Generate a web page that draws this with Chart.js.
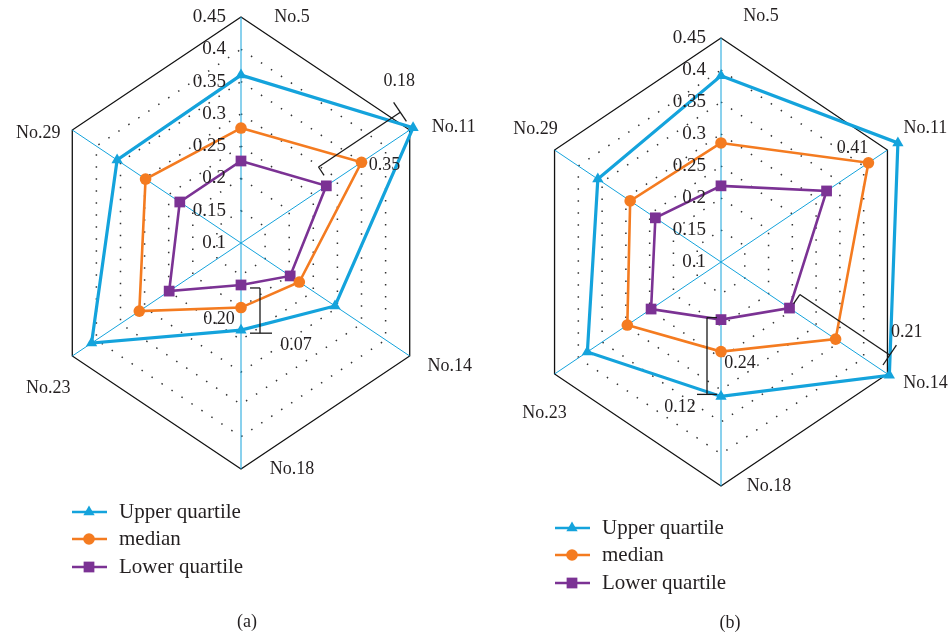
<!DOCTYPE html>
<html>
<head>
<meta charset="utf-8">
<script src="https://cdn.jsdelivr.net/npm/chart.js@4.4.1/dist/chart.umd.min.js"></script>
<style>
  html, body { margin: 0; padding: 0; background: #fff; }
  #wrap { position: relative; width: 952px; height: 639px; overflow: hidden; }
  canvas { position: absolute; top: 0; }
</style>
</head>
<body>
<div id="wrap">
  <canvas id="chartA" width="476" height="639" style="left:0"></canvas>
  <canvas id="chartB" width="476" height="639" style="left:476px"></canvas>
</div>
<script>
// ---- data ----
const categories = ['No.5', 'No.11', 'No.14', 'No.18', 'No.23', 'No.29'];
const tickValues = [0.1, 0.15, 0.2, 0.25, 0.3, 0.35, 0.4, 0.45];
const seriesNames = ['Upper quartile', 'median', 'Lower quartile'];

// panel (a)
const upperA  = [0.36, 0.457, 0.295, 0.235, 0.41, 0.357];
const medianA = [0.278, 0.35, 0.221, 0.20, 0.311, 0.298];
const lowerA  = [0.227, 0.277, 0.202, 0.165, 0.249, 0.227];

// panel (b)
const upperB  = [0.391, 0.472, 0.454, 0.31, 0.381, 0.359];
const medianB = [0.286, 0.41, 0.341, 0.24, 0.297, 0.291];
const lowerB  = [0.219, 0.322, 0.244, 0.19, 0.247, 0.238];

// ---- styling ----
const FONT = '"Liberation Serif", "Times New Roman", serif';
const INK = '#231f20';
const SERIES_STYLE = [
  { color: '#14a3dc', width: 3.2, pointStyle: 'triangle', radius: 6.5 },
  { color: '#f47b20', width: 2.6, pointStyle: 'circle', radius: 5.8 },
  { color: '#7b3294', width: 2.6, pointStyle: 'rect', radius: 7.6 }
];

// Radial scale whose horizontal extent is compressed, giving a taller-than-wide hexagon.
class SquashedRadialScale extends Chart.RadialLinearScale {
  fit() {
    super.fit();
    this.xCenter = Math.floor((this.left + this.right) / 2);
    this.yCenter = Math.floor((this.top + this.bottom) / 2);
    this.drawingArea = Math.min(this.right - this.left, this.bottom - this.top) / 2;
  }
  getPointPosition(index, distanceFromCenter, additionalAngle = 0) {
    const p = super.getPointPosition(index, distanceFromCenter, additionalAngle);
    const k = this.options.squashX || 1;
    return { x: this.xCenter + (p.x - this.xCenter) * k, y: p.y, angle: p.angle };
  }
}
SquashedRadialScale.id = 'squashedRadial';
SquashedRadialScale.defaults = Chart.RadialLinearScale.defaults;
Chart.register(SquashedRadialScale);

// Per-panel text placement and annotations (canvas-local pixels).
const panelLayout = {
  chartA: {
    catOffsets: [[51, 0], [44, -3], [40, 10], [51, 0], [-24, 32], [-34, 3]],
    valueNotes: [
      { series: 1, index: 1, dx: 23, dy: 3 },
      { series: 1, index: 3, dx: -22, dy: 12 }
    ],
    brackets: [
      { index: 1, side: 1, off: 20, a0: 4, a1: -2, tickIn: 10, crossOut: 12, crossIn: 11, lx: -1, ly: -31 },
      { index: 3, side: 1, off: 19, a0: 3, a1: 3, tickIn: 10, crossOut: 12, crossIn: 10, lx: 36, ly: 12 }
    ],
    legend: { x0: 72, x1: 107, xm: 89, xt: 119, ys: [512, 539, 567] },
    caption: { text: '(a)', x: 247, y: 622 }
  },
  chartB: {
    catOffsets: [[40, -22], [38, -22], [38, 9], [48, 0], [-10, 39], [-19, -21]],
    valueNotes: [
      { series: 1, index: 1, dx: -16, dy: -15 },
      { series: 1, index: 3, dx: 19, dy: 12 }
    ],
    brackets: [
      { index: 2, side: 1, off: 17, a0: 1, a1: -11, tickIn: 11, crossOut: 12, crossIn: 12, lx: 17, ly: -23 },
      { index: 3, side: -1, off: 14, a0: -2, a1: -2, tickIn: 10, crossOut: 10, crossIn: 10, lx: -27, ly: 13 }
    ],
    legend: { x0: 79, x1: 114, xm: 96, xt: 126, ys: [528, 555, 583] },
    caption: { text: '(b)', x: 254, y: 623 }
  }
};

function drawText(ctx, str, x, y, size, align) {
  ctx.font = size + 'px ' + FONT;
  ctx.fillStyle = INK;
  ctx.textAlign = align || 'center';
  ctx.textBaseline = 'middle';
  ctx.fillText(str, x, y);
}

function drawMarker(ctx, style, x, y) {
  ctx.fillStyle = style.color;
  ctx.beginPath();
  if (style.pointStyle === 'circle') {
    ctx.arc(x, y, style.radius, 0, Math.PI * 2);
  } else if (style.pointStyle === 'triangle') {
    const r = style.radius;
    ctx.moveTo(x, y - r);
    ctx.lineTo(x + r * Math.sin(Math.PI / 3), y + r * 0.5);
    ctx.lineTo(x - r * Math.sin(Math.PI / 3), y + r * 0.5);
    ctx.closePath();
  } else {
    const s = style.radius * Math.SQRT1_2;
    ctx.rect(x - s, y - s, 2 * s, 2 * s);
  }
  ctx.fill();
}

function line(ctx, a, b) {
  ctx.beginPath();
  ctx.moveTo(a.x, a.y);
  ctx.lineTo(b.x, b.y);
  ctx.stroke();
}

const decorPlugin = {
  id: 'decor',
  afterDraw(chart) {
    const d = panelLayout[chart.canvas.id];
    const ctx = chart.ctx;
    const r = chart.scales.r;
    const ds = chart.data.datasets;
    ctx.save();

    // radial tick labels along the upper axis
    tickValues.forEach(v => {
      const y = r.yCenter - r.getDistanceFromCenterForValue(v);
      drawText(ctx, String(v), r.xCenter - 15, y, 19, 'right');
    });

    // category labels at the hexagon corners
    categories.forEach((c, i) => {
      const p = r.getPointPosition(i, r.drawingArea);
      drawText(ctx, c, p.x + d.catOffsets[i][0], p.y + d.catOffsets[i][1], 18);
    });

    // median value notes
    d.valueNotes.forEach(n => {
      const v = ds[n.series].data[n.index];
      const p = r.getPointPositionForValue(n.index, v);
      drawText(ctx, v.toFixed(2), p.x + n.dx, p.y + n.dy, 18);
    });

    // interquartile range brackets
    ctx.strokeStyle = '#1a1a1a';
    ctx.lineWidth = 1.3;
    d.brackets.forEach(b => {
      const lo = ds[2].data[b.index];
      const hi = ds[0].data[b.index];
      const pl = r.getPointPositionForValue(b.index, lo);
      const pu = r.getPointPositionForValue(b.index, hi);
      const len = Math.hypot(pu.x - pl.x, pu.y - pl.y);
      const u = { x: (pu.x - pl.x) / len, y: (pu.y - pl.y) / len };
      const n = { x: u.y * b.side, y: -u.x * b.side };
      const ml = { x: pl.x + n.x * b.off + u.x * b.a0, y: pl.y + n.y * b.off + u.y * b.a0 };
      const mu = { x: pu.x + n.x * b.off + u.x * b.a1, y: pu.y + n.y * b.off + u.y * b.a1 };
      line(ctx, ml, mu);
      line(ctx, ml, { x: ml.x - n.x * b.tickIn, y: ml.y - n.y * b.tickIn });
      line(ctx, { x: mu.x + n.x * b.crossOut, y: mu.y + n.y * b.crossOut },
                { x: mu.x - n.x * b.crossIn, y: mu.y - n.y * b.crossIn });
      drawText(ctx, (hi - lo).toFixed(2), mu.x + b.lx, mu.y + b.ly, 18);
    });

    // legend
    const L = d.legend;
    ds.forEach((set, i) => {
      const st = SERIES_STYLE[i];
      const y = L.ys[i];
      ctx.strokeStyle = st.color;
      ctx.lineWidth = 2.6;
      line(ctx, { x: L.x0, y }, { x: L.x1, y });
      drawMarker(ctx, st, L.xm, y);
      drawText(ctx, set.label, L.xt, y, 21, 'left');
    });

    drawText(ctx, d.caption.text, d.caption.x, d.caption.y, 18);
    ctx.restore();
  }
};

function makeDatasets(up, med, low) {
  return [up, med, low].map((data, i) => {
    const st = SERIES_STYLE[i];
    return {
      label: seriesNames[i],
      data,
      borderColor: st.color,
      backgroundColor: st.color,
      borderWidth: st.width,
      pointStyle: st.pointStyle,
      pointRadius: st.radius,
      pointBackgroundColor: st.color,
      pointBorderColor: st.color,
      pointBorderWidth: 0,
      fill: false,
      tension: 0,
      clip: false
    };
  });
}

function makeChart(id, datasets, padding, squashX) {
  return new Chart(document.getElementById(id), {
    type: 'radar',
    data: { labels: categories, datasets },
    options: {
      responsive: false,
      animation: false,
      events: [],
      layout: { padding },
      plugins: { legend: { display: false }, tooltip: { enabled: false } },
      scales: {
        r: {
          type: 'squashedRadial',
          squashX,
          min: 0.1,
          max: 0.45,
          ticks: { display: false, stepSize: 0.05 },
          pointLabels: { display: false },
          grid: {
            color: ctx => (ctx.tick && ctx.tick.value > 0.449) ? '#111' : '#333',
            lineWidth: ctx => (ctx.tick && ctx.tick.value > 0.449) ? 1.3 : 1.5
          },
          border: {
            dash: ctx => (ctx.tick && ctx.tick.value > 0.449) ? [] : [1.5, 10.5]
          },
          angleLines: { color: '#14a3dc', lineWidth: 1 }
        }
      }
    },
    plugins: [decorPlugin]
  });
}

makeChart('chartA', makeDatasets(upperA, medianA, lowerA),
  { left: 15, right: 9, top: 17, bottom: 170 }, 0.862);
makeChart('chartB', makeDatasets(upperB, medianB, lowerB),
  { left: 21, right: 7, top: 38, bottom: 153 }, 0.858);
</script>
</body>
</html>
